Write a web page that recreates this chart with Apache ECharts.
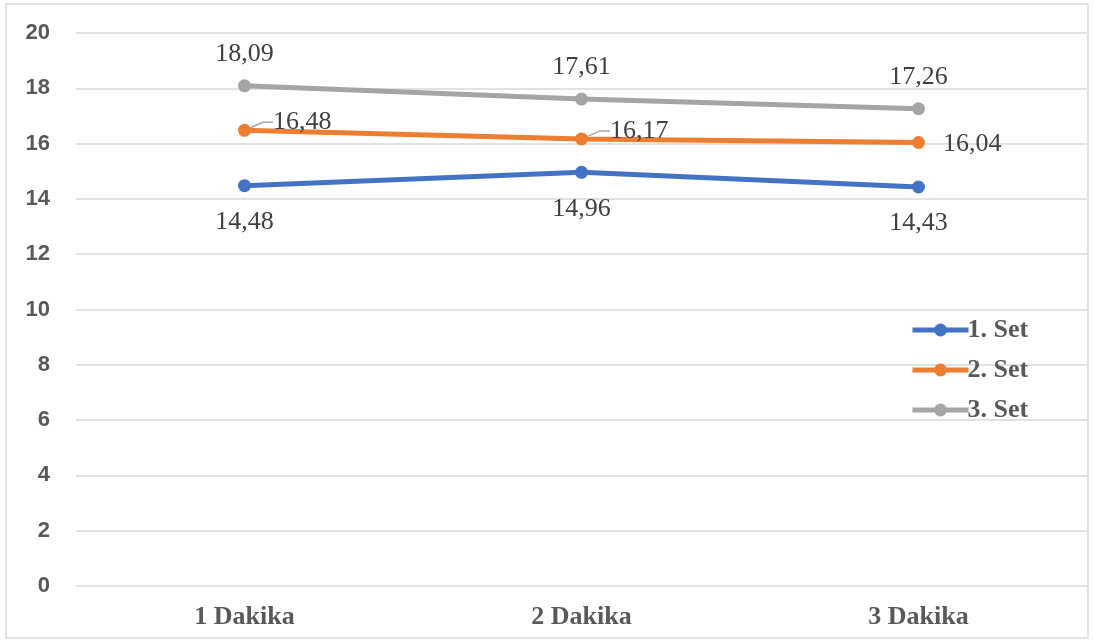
<!DOCTYPE html>
<html><head><meta charset="utf-8">
<script src="https://cdn.jsdelivr.net/npm/echarts@6/dist/echarts.min.js"></script>
<style>html,body{margin:0;padding:0;background:#fff}#c{width:1093px;height:641px}</style>
</head><body><div id="c"></div>
<script>
const categories = ['1 Dakika', '2 Dakika', '3 Dakika'];
const seriesNames = ['1. Set', '2. Set', '3. Set'];
const set1 = [14.48, 14.96, 14.43];
const set2 = [16.48, 16.17, 16.04];
const set3 = [18.09, 17.61, 17.26];
const yTicks = { min: 0, max: 20, interval: 2 };
const colors = ['#4472C4', '#ED7D31', '#A5A5A5'];

const fmt = p => p.value.toFixed(2).replace('.', ',');
const labelFont = { fontFamily: 'Liberation Serif', fontSize: 26, color: '#404040' };
const chart = echarts.init(document.getElementById('c'));
function mk(name, data, color, labelOpt, extra) {
  return Object.assign({
    name, type: 'line', data, color,
    lineStyle: { width: 5, color },
    itemStyle: { color },
    symbol: 'circle', symbolSize: 13,
    label: Object.assign({ show: true, formatter: fmt }, labelFont, labelOpt)
  }, extra || {});
}
const set2Data = set2.map((v, i) => i < 2 ? { value: v } : { value: v, labelLine: { show: false } });
chart.setOption({
  animation: false,
  graphic: [{ type: 'rect', shape: { x: 6, y: 4, width: 1082, height: 634 },
    style: { fill: 'none', stroke: '#d9d9d9', lineWidth: 1.5 }, z: -1 }],
  grid: { left: 76, right: 6, top: 33, bottom: 55 },
  xAxis: {
    type: 'category', data: categories, boundaryGap: true,
    axisLine: { show: false }, axisTick: { show: false },
    axisLabel: { fontFamily: 'Liberation Serif', fontWeight: 'bold', fontSize: 26, color: '#595959', margin: 18 }
  },
  yAxis: {
    type: 'value', min: yTicks.min, max: yTicks.max, interval: yTicks.interval,
    axisLine: { show: false }, axisTick: { show: false },
    splitLine: { lineStyle: { color: '#d9d9d9', width: 1.5 } },
    axisLabel: { fontFamily: 'Liberation Sans', fontWeight: 'bold', fontSize: 22, color: '#595959', margin: 26 }
  },
  legend: {
    orient: 'vertical', left: 905, top: 312, itemWidth: 56, itemHeight: 16, itemGap: 14,
    data: seriesNames,
    lineStyle: { width: 5 },
    textStyle: { fontFamily: 'Liberation Serif', fontWeight: 'bold', fontSize: 26, color: '#595959', padding: [0, 0, 0, -6] }
  },
  series: [
    mk(seriesNames[0], set1, colors[0], { position: 'bottom', distance: 17 }),
    mk(seriesNames[1], set2Data, colors[1], { position: 'right', distance: 10 }, {
      labelLine: { show: true, length2: 10, lineStyle: { color: '#a6a6a6', width: 1.5 } },
      labelLayout: function (p) {
        if (p.dataIndex < 2) return { dx: 12, dy: -8 };
        return { dx: 8, dy: 2 };
      }
    }),
    mk(seriesNames[2], set3, colors[2], { position: 'top', distance: 12 })
  ]
});
</script></body></html>
